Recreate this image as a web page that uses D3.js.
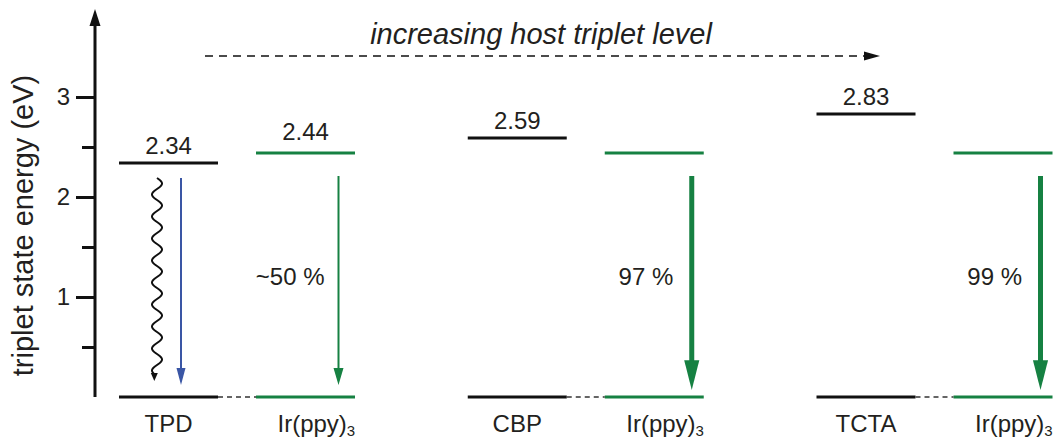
<!DOCTYPE html>
<html>
<head>
<meta charset="utf-8">
<script src="https://cdn.jsdelivr.net/npm/d3@7"></script>
<style>
  body { margin: 0; background: #fff; }
  svg { display: block; }
  text { font-family: "Liberation Sans", Arial, Helvetica, sans-serif; fill: #231f20; }
</style>
</head>
<body>
<svg id="chart" width="1055" height="439"></svg>
<script>
// Host materials and their triplet energies (eV)
const hosts = ["TPD", "CBP", "TCTA"];
const hostTriplet = [2.34, 2.59, 2.83];
// Phosphorescent guest in each host
const guestName = "Ir(ppy)";
const guestSub = "3";
const guestTriplet = [2.44, 2.44, 2.44];
// Fraction of guest triplets that decay radiatively in each host
const transferLabels = ["~50 %", "97 %", "99 %"];
const transferEfficiency = [50, 97, 99];
// Axis ticks
const majorTicks = [1, 2, 3];
const minorTicks = [0.5, 1.5, 2.5];
const axisTitle = "triplet state energy (eV)";
const trendLabel = "increasing host triplet level";

const black = "#111";
const green = "#168142";
const blue = "#3a56a5";

const svg = d3.select("#chart");

const y = d3.scaleLinear().domain([0, 3]).range([397, 97]);
const xHost = d3.scalePoint().domain(hosts).range([168.5, 866]);
const guestOffset = 137;
const levelW = 99;
const axisX = 95;

// ---- energy axis ----
const axisG = svg.append("g").attr("transform", `translate(${axisX},0)`);
axisG.append("line")
  .attr("x1", 0).attr("x2", 0)
  .attr("y1", y(0)).attr("y2", 22)
  .attr("stroke", black).attr("stroke-width", 3);
axisG.append("path")
  .attr("d", "M0,9 L-5.5,26 L5.5,26 Z")
  .attr("fill", black);

const major = d3.axisLeft(y).tickValues(majorTicks).tickSize(19).tickPadding(6).tickFormat(d3.format("d"));
const minor = d3.axisLeft(y).tickValues(minorTicks).tickSize(13).tickFormat("");
[major, minor].forEach(ax => {
  const g = axisG.append("g").call(ax);
  g.select(".domain").remove();
  g.selectAll(".tick line").attr("stroke", black).attr("stroke-width", 3);
  g.selectAll(".tick text")
    .attr("font-size", 24)
    .attr("font-family", "Liberation Sans, Arial, sans-serif")
    .attr("fill", "#231f20");
});

svg.append("text")
  .attr("transform", `translate(33,${(73 + 378) / 2}) rotate(-90)`)
  .attr("text-anchor", "middle")
  .attr("font-size", 29)
  .text(axisTitle);

// ---- trend arrow along the top ----
svg.append("text")
  .attr("x", 541).attr("y", 44)
  .attr("text-anchor", "middle")
  .attr("font-size", 29)
  .attr("font-style", "italic")
  .text(trendLabel);
svg.append("line")
  .attr("x1", 205).attr("x2", 866)
  .attr("y1", 56).attr("y2", 56)
  .attr("stroke", black).attr("stroke-width", 1.5)
  .attr("stroke-dasharray", "8,6");
svg.append("path")
  .attr("d", "M880,56 L864,51.5 L864,60.5 Z")
  .attr("fill", black);

// ---- energy levels ----
function level(cx, val, color) {
  svg.append("line")
    .attr("x1", cx - levelW / 2).attr("x2", cx + levelW / 2)
    .attr("y1", y(val)).attr("y2", y(val))
    .attr("stroke", color).attr("stroke-width", 3);
}

function arrow(x, y0, tip, w, headLen, headW, color) {
  svg.append("line")
    .attr("x1", x).attr("x2", x)
    .attr("y1", y0).attr("y2", tip - headLen + 2)
    .attr("stroke", color).attr("stroke-width", w);
  svg.append("path")
    .attr("d", `M${x},${tip} L${x - headW / 2},${tip - headLen} L${x + headW / 2},${tip - headLen} Z`)
    .attr("fill", color);
}

const arrowWidth = d3.scaleLinear().domain([50, 97]).range([2, 5]).clamp(true);

hosts.forEach((h, i) => {
  const hx = xHost(h);
  const gx = hx + guestOffset;

  // ground states and the dashed link between host and guest
  level(hx, 0, black);
  level(gx, 0, green);
  svg.append("line")
    .attr("x1", hx + levelW / 2).attr("x2", gx - levelW / 2)
    .attr("y1", y(0)).attr("y2", y(0))
    .attr("stroke", "#333").attr("stroke-width", 1.5)
    .attr("stroke-dasharray", "5,4");

  // triplet levels
  level(hx, hostTriplet[i], black);
  level(gx, guestTriplet[i], green);

  svg.append("text")
    .attr("x", hx).attr("y", y(hostTriplet[i]) - 9)
    .attr("text-anchor", "middle").attr("font-size", 24)
    .text(d3.format(".2f")(hostTriplet[i]));
  if (i === 0) {
    svg.append("text")
      .attr("x", gx).attr("y", y(guestTriplet[i]) - 13)
      .attr("text-anchor", "middle").attr("font-size", 24)
      .text(d3.format(".2f")(guestTriplet[i]));
  }

  // category labels
  svg.append("text")
    .attr("x", hx).attr("y", 432)
    .attr("text-anchor", "middle").attr("font-size", 24)
    .text(h);
  const gl = svg.append("text")
    .attr("x", gx - 28).attr("y", 432)
    .attr("font-size", 24);
  gl.append("tspan").text(guestName);
  gl.append("tspan").attr("font-size", 15).attr("dy", 4).text(guestSub);

  // radiative decay of the guest, thickness follows efficiency
  const w = arrowWidth(transferEfficiency[i]);
  const ax = gx + 30 + w * 1.5;
  const tip = y(0) - 12 + (w - 2) * 1.7;
  arrow(ax, y(guestTriplet[i]) + 23, tip, w, 17 + (w - 2) * 4.3, 10 + (w - 2) * 1.7, green);

  svg.append("text")
    .attr("x", gx + 19).attr("y", 285)
    .attr("text-anchor", "end").attr("font-size", 24)
    .text(transferLabels[i]);
});

// ---- TPD: non-radiative (wavy) and radiative (blue) decay ----
const tpdX = xHost("TPD");
const tpdTop = y(hostTriplet[0]) + 15;
const tpdTip = y(0) - 12;
arrow(tpdX + 12.5, tpdTop, tpdTip, 2, 17, 9, blue);

const waveX = tpdX - 11.5;
const waveEnd = tpdTip + 1 - 12;
const wavePts = d3.range(tpdTop, waveEnd + 0.01, 0.5)
  .map(v => [waveX + 5 * Math.sin((v - tpdTop) / 22 * 2 * Math.PI), v]);
svg.append("path")
  .attr("d", d3.line()(wavePts))
  .attr("fill", "none").attr("stroke", black).attr("stroke-width", 2);
const wx = wavePts[wavePts.length - 1][0];
svg.append("path")
  .attr("d", `M${wx},${tpdTip - 4} L${wx - 3.5},${waveEnd - 1} L${wx + 3.5},${waveEnd - 1} Z`)
  .attr("fill", black);
</script>
</body>
</html>
